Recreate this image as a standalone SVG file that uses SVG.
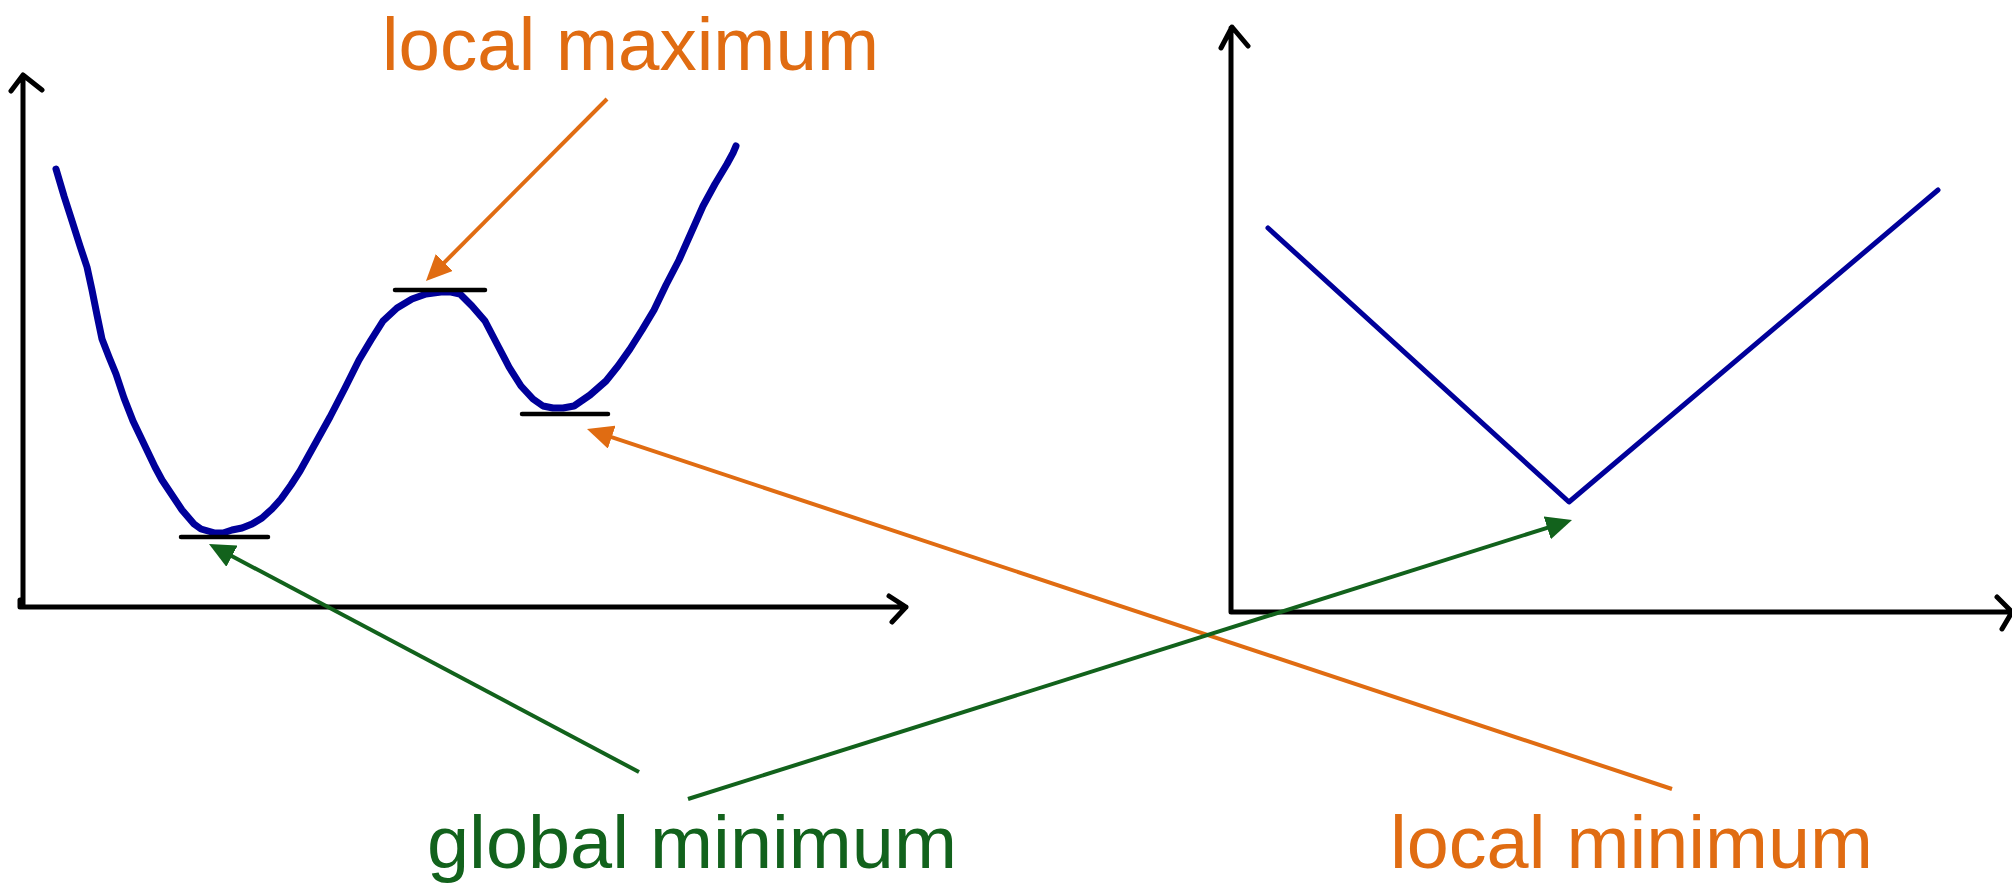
<svg xmlns="http://www.w3.org/2000/svg" width="2012" height="885" viewBox="0 0 2012 885">
<style>
.axis{fill:none;stroke:#000;stroke-width:5;stroke-linecap:round;stroke-linejoin:round}
.curve{fill:none;stroke:#00009a;stroke-linecap:round;stroke-linejoin:round}
.flat{stroke:#000;stroke-width:4.5;stroke-linecap:round}
.orange{fill:none;stroke:#e06c12;stroke-width:4}
.green{fill:none;stroke:#12621c;stroke-width:4}
.lbl{font-family:"Liberation Sans",Arial,sans-serif;font-size:74px}
</style>
<defs>
<marker id="ao" markerUnits="userSpaceOnUse" viewBox="0 0 26 24" refX="20" refY="12" markerWidth="26" markerHeight="24" orient="auto"><path d="M0,0 L26,12 L0,24 z" fill="#e06c12"/></marker>
<marker id="ag" markerUnits="userSpaceOnUse" viewBox="0 0 26 24" refX="20" refY="12" markerWidth="26" markerHeight="24" orient="auto"><path d="M0,0 L26,12 L0,24 z" fill="#12621c"/></marker>
</defs>
<rect width="2012" height="885" fill="#fff"/>
<g id="left-plot">
<path class="axis" d="M23,607 L23,76 M11,91 L23,75 L42,90 M20,600 L20,607 L906,607 M889,596 L906,607 L892,622"/>
<path class="curve" stroke-width="7" d="M56,169 L64,196 L73,224 L80,246 L87,267 L92,290 L97,315 L102,339 L109,357 L116,374 L124,398 L133,421 L144,444 L155,467 L162,480 L170,492 L182,510 L194,524 L201,529 L208,531 L215,533 L223,533 L232,530 L242,528 L252,524 L262,518 L272,509 L281,499 L291,485 L300,471 L315,444 L330,417 L345,388 L359,360 L371,340 L383,321 L397,308 L412,299 L426,294 L441,292 L451,292 L460,294 L472,306 L485,321 L497,344 L509,367 L521,386 L533,399 L543,406 L553,408 L563,408 L574,406 L590,395 L606,381 L618,366 L630,349 L642,330 L654,310 L666,285 L679,260 L691,233 L703,206 L715,184 L727,164 L733,153 L736,146"/>
<line class="flat" x1="395" y1="290" x2="485" y2="290"/>
<line class="flat" x1="522" y1="414" x2="608" y2="414"/>
<line class="flat" x1="181" y1="537" x2="268" y2="537"/>
</g>
<g id="right-plot">
<path class="axis" d="M1231,612 L1231,28 M1221,48 L1232,27 L1248,46 M1231,612 L2012,612 M1997,597 L2012,612 L2002,629"/>
<path class="curve" stroke-width="5" d="M1268,228 L1569,502 L1938,190"/>
</g>
<g id="connectors">
<line class="orange" x1="607" y1="99" x2="430.2" y2="276.7" marker-end="url(#ao)"/>
<line class="orange" x1="1672" y1="789" x2="592.7" y2="430.9" marker-end="url(#ao)"/>
<line class="green" x1="639" y1="772" x2="214.3" y2="546.8" marker-end="url(#ag)"/>
<line class="green" x1="688" y1="799" x2="1566.3" y2="521.8" marker-end="url(#ag)"/>
</g>
<g id="label-local-maximum"><text class="lbl" x="382" y="70" fill="#e06c12" textLength="497" lengthAdjust="spacingAndGlyphs">local maximum</text></g>
<g id="label-global-minimum"><text class="lbl" x="427" y="868" fill="#12621c" textLength="530" lengthAdjust="spacingAndGlyphs">global minimum</text></g>
<g id="label-local-minimum"><text class="lbl" x="1390" y="868" fill="#e06c12" textLength="483" lengthAdjust="spacingAndGlyphs">local minimum</text></g>
</svg>
